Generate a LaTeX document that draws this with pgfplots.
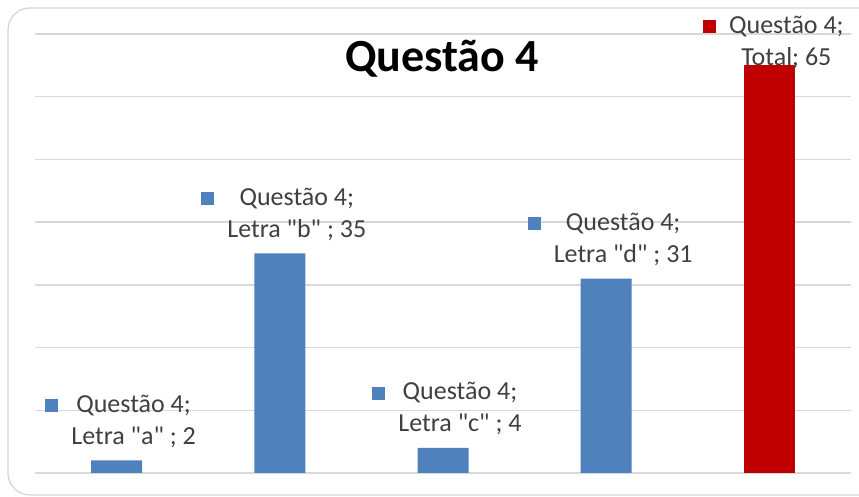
\documentclass[border=0pt]{standalone}
\usepackage{pgfplots}
\pgfplotsset{compat=1.18}
\usepackage{fontspec}
\setmainfont{Carlito}[Ligatures=TeXOff]
\definecolor{barblue}{RGB}{79,129,189}
\definecolor{barred}{RGB}{192,0,0}
\definecolor{gridgray}{RGB}{217,217,217}
\definecolor{labelgray}{RGB}{64,64,64}
\definecolor{framegray}{RGB}{215,215,215}
\newcommand{\txta}{Letra "a" ; 2}
\newcommand{\txtb}{Letra "b" ; 35}
\newcommand{\txtc}{Letra "c" ; 4}
\newcommand{\txtd}{Letra "d" ; 31}
\newcommand{\txte}{Total; 65}
\newcommand{\lbl}[2]{\fontsize{26}{32}\selectfont\color{labelgray}\textcolor{#1}{\rule{13pt}{13pt}}\hspace{13pt}\begin{tabular}[t]{@{}c@{}}Questão 4;\\#2\end{tabular}}
\begin{document}
\begin{tikzpicture}
\useasboundingbox (0,0) rectangle (859pt,497pt);
\fill[white] (0,0) rectangle (859pt,497pt);
\draw[framegray, line width=1.3pt, rounded corners=22pt] (8pt,2pt) rectangle (890pt,489pt);
\begin{axis}[
  at={(35pt,24pt)}, anchor=south west,
  scale only axis, width=816pt, height=439pt,
  xmin=-0.5, xmax=4.5, ymin=0, ymax=70,
  ybar, bar width=51pt,
  ytick={0,10,...,70}, yticklabels={},
  xtick=\empty,
  ymajorgrids, major grid style={gridgray, line width=1.5pt},
  axis line style={draw=none}, tick style={draw=none},
  clip=false,
  point meta=explicit symbolic,
]
\addplot[fill=barblue, draw=none, bar shift=0pt,
  nodes near coords={\lbl{barblue}{\csname txt\pgfplotspointmeta\endcsname}},
  every node near coord/.style={anchor=south, inner sep=0pt, yshift=6.4pt, xshift=4pt}]
  coordinates {(0,2) [a] (1,35) [b] (2,4) [c] (3,31) [d]};
\addplot[fill=barred, draw=none, bar shift=0pt,
  nodes near coords={\lbl{barred}{\csname txt\pgfplotspointmeta\endcsname}},
  every node near coord/.style={anchor=south, inner sep=0pt, yshift=-9.6pt, xshift=4pt}]
  coordinates {(4,65) [e]};
\end{axis}
\node[anchor=base, font=\fontsize{46}{50}\selectfont\bfseries] at (442pt,425pt) {Questão 4};
\end{tikzpicture}
\end{document}
